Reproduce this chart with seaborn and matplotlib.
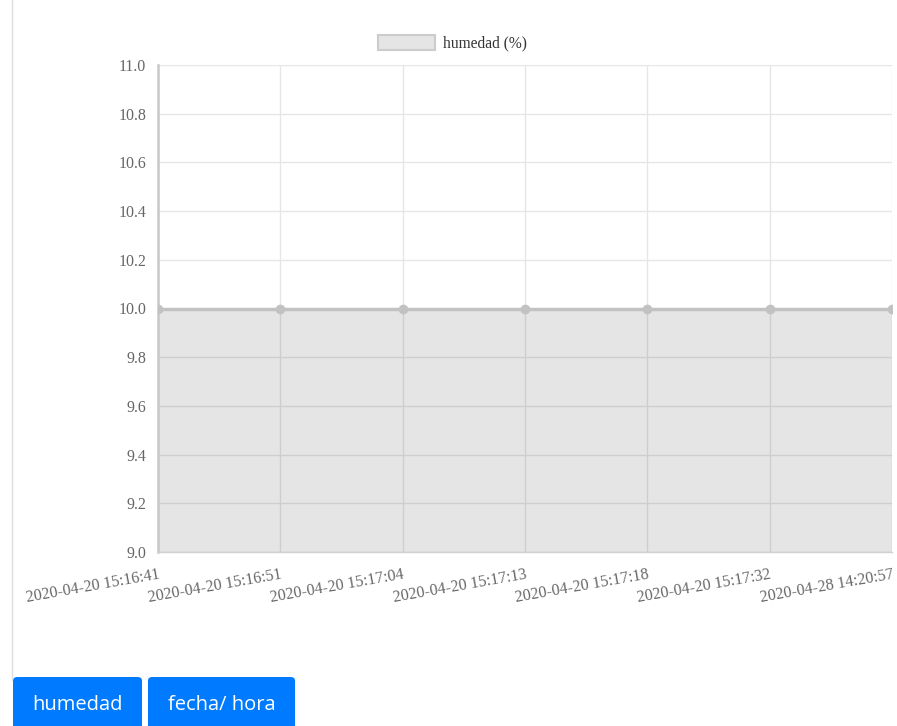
import numpy as np
import pandas as pd
import seaborn as sns
import matplotlib.pyplot as plt
from matplotlib.patches import FancyBboxPatch, Rectangle

fechas = ["2020-04-20 15:16:41", "2020-04-20 15:16:51", "2020-04-20 15:17:04",
          "2020-04-20 15:17:13", "2020-04-20 15:17:18", "2020-04-20 15:17:32",
          "2020-04-28 14:20:57"]
humedad = [10, 10, 10, 10, 10, 10, 10]
y_ticks = [9.0, 9.2, 9.4, 9.6, 9.8, 10.0, 10.2, 10.4, 10.6, 10.8, 11.0]
botones = ["humedad", "fecha/ hora"]

df = pd.DataFrame({"pos": np.arange(len(fechas)), "humedad": humedad})

sns.set_style("white")
plt.rcParams['font.family'] = ['Liberation Serif', 'DejaVu Serif']

fig = plt.figure(figsize=(8.97, 7.26), dpi=100)
ax = fig.add_axes([158 / 897, 1 - 552 / 726, (892 - 158) / 897, (552 - 65) / 726])

line_col = "#c2c2c2"
# relleno translucido, como en el original (la rejilla se ve a traves)
ax.fill_between(df["pos"], 9.0, df["humedad"], color="black", alpha=0.1, zorder=2, lw=0)
sns.lineplot(data=df, x="pos", y="humedad", ax=ax, color=line_col, lw=2.5,
             marker="o", markersize=7, markeredgewidth=0, zorder=3)

ax.set_xlim(0, len(fechas) - 1)
ax.set_ylim(9.0, 11.0)
ax.set_yticks(y_ticks)
ax.set_yticklabels([f"{v:.1f}" for v in y_ticks])
ax.set_xticks(df["pos"])
ax.set_xticklabels(fechas, rotation=10, ha="right", rotation_mode="anchor")
ax.set_xlabel("")
ax.set_ylabel("")

ax.grid(True, color="#e6e6e6", lw=1, zorder=0)
ax.set_axisbelow(True)
ax.tick_params(axis="both", length=7.5, width=1, color="#e6e6e6",
               labelcolor="#666666", labelsize=11.5, pad=1)
ax.tick_params(axis="x", pad=3)
for s in ["top", "right"]:
    ax.spines[s].set_visible(False)
ax.spines["left"].set_color("#c8c8c8")
ax.spines["left"].set_linewidth(1.8)
ax.spines["bottom"].set_color("#d0d0d0")
ax.spines["bottom"].set_linewidth(1)

# leyenda
fig.patches.append(Rectangle((378 / 897, 1 - 50 / 726), 57 / 897, 15 / 726,
                             transform=fig.transFigure, facecolor="#e5e5e5",
                             edgecolor="#cccccc", lw=1.5))
fig.text(443 / 897, 1 - 43 / 726, "humedad (%)", fontsize=11.2, color="#333333",
         va="center", ha="left")

# borde de la pagina
fig.add_artist(plt.Line2D([12 / 897, 12 / 897], [1 - 680 / 726, 1], color="#dddddd",
                          lw=1, transform=fig.transFigure))

# botones
for (x0, x1), label in zip([(13, 142), (148, 295)], botones):
    fig.patches.append(FancyBboxPatch((x0 / 897, 1 - 740 / 726), (x1 - x0) / 897, 63 / 726,
                                      boxstyle="round,pad=0,rounding_size=0.005",
                                      transform=fig.transFigure, facecolor="#007bff",
                                      edgecolor="#007bff", lw=0))
    fig.text((x0 + x1) / 2 / 897, 1 - 705 / 726, label, color="white", fontsize=14.5,
             ha="center", va="center", family=["Open Sans", "DejaVu Sans"])

plt.savefig("out.png", dpi=100)
